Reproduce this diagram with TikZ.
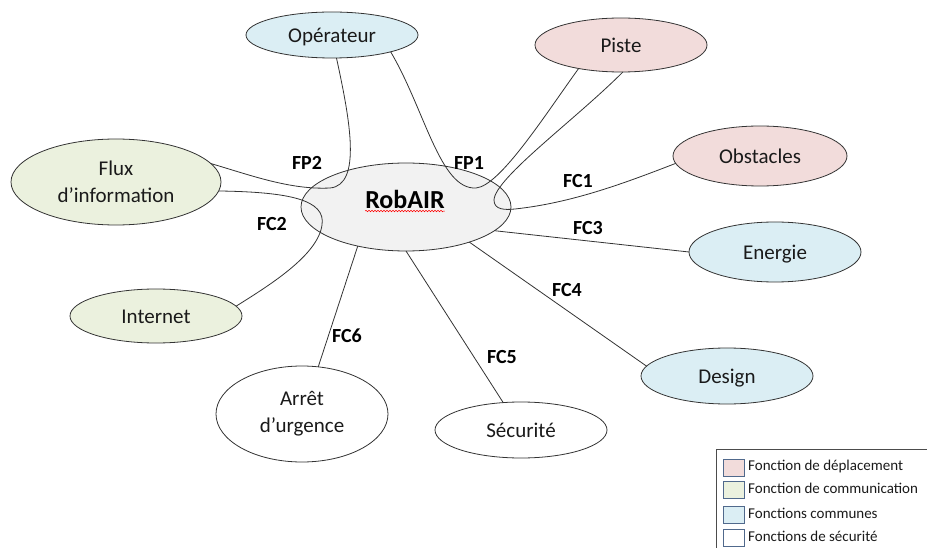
\documentclass[tikz,border=0pt]{standalone}
\usepackage{fontspec}
\setmainfont{Carlito}
\usetikzlibrary{shapes.geometric,decorations.pathmorphing}
\definecolor{pinkf}{HTML}{F2DCDB}
\definecolor{greenf}{HTML}{EBF1DE}
\definecolor{bluef}{HTML}{DBEEF4}
\definecolor{greyf}{HTML}{F2F2F2}
\definecolor{swb}{RGB}{80,105,140}
\definecolor{txt}{HTML}{1A1A1A}
\begin{document}
\begin{tikzpicture}[x=1pt,y=-1pt,
  ell/.style={ellipse,draw=black!80,line width=0.8pt,inner sep=0pt,outer sep=0pt,
    font=\fontsize{21}{27}\selectfont,text=txt,align=center},
  oneline/.style={text height=19pt,text depth=4pt},
  lab/.style={font=\bfseries\fontsize{20}{22}\selectfont,inner sep=0pt,text=black},
  conn/.style={draw=black!80,line width=0.8pt},
  sw/.style={draw=swb,line width=0.8pt,minimum width=21pt,minimum height=17pt,inner sep=0pt},
  legt/.style={font=\fontsize{15}{17}\selectfont,anchor=west,inner sep=0pt,text=txt}]
\useasboundingbox (0,0) rectangle (927,548);

% nodes
\node[ell,oneline,fill=bluef,minimum width=172pt,minimum height=46pt] (op) at (332,35) {Opérateur};
\node[ell,oneline,fill=pinkf,minimum width=172pt,minimum height=54pt] (pi) at (621,45) {Piste};
\node[ell,oneline,fill=pinkf,minimum width=174pt,minimum height=60pt] (ob) at (760,156) {Obstacles};
\node[ell,oneline,fill=bluef,minimum width=172pt,minimum height=60pt] (en) at (775,252) {Energie};
\node[ell,oneline,fill=bluef,minimum width=172pt,minimum height=56pt] (des) at (727,376) {Design};
\node[ell,oneline,fill=white,minimum width=172pt,minimum height=56pt] (sec) at (521,430) {Sécurité};
\node[ell,fill=white,minimum width=172pt,minimum height=96pt] (arr) at (302,414) {Arrêt\\d’urgence};
\node[ell,oneline,fill=greenf,minimum width=172pt,minimum height=54pt] (inet) at (156,316) {Internet};
\node[ell,fill=greenf,minimum width=210pt,minimum height=86pt] (flux) at (116,182) {Flux\\d’information};
\node[ell,fill=greyf,minimum width=210pt,minimum height=88pt] (rob) at (406,207) {};
\node[font=\bfseries\fontsize{26}{28}\selectfont,inner sep=0pt,text=black] (robt) at (405,199) {RobAIR};
\draw[red,line width=0.5pt,decorate,decoration={snake,amplitude=0.7pt,segment length=3pt}]
  ([yshift=-3pt]robt.base west) -- ([yshift=-3pt]robt.base east);

% connectors
\draw[conn] (op.281) .. controls (350,120) and (362,185) .. (330,188)
  .. controls (290,190) and (250,175) .. (flux.11);
\draw[conn] (op.344) .. controls (425,110) and (440,190) .. (476,188)
  .. controls (500,186) and (545,115) .. (pi.209);
\draw[conn] (pi.274) .. controls (575,120) and (495,178) .. (494,200)
  .. controls (494,210) and (505,210) .. (515,209)
  .. controls (570,203) and (620,185) .. (ob.185);
\draw[conn] (flux.355) .. controls (290,192) and (326,200) .. (322,225)
  .. controls (318,255) and (270,285) .. (inet.7.5);
\draw[conn] (rob.345) -- (en.180);
\draw[conn] (rob.331) -- (des.173);
\draw[conn] (rob.270) -- (sec.123);
\draw[conn] (rob.219) -- (arr.71);

% labels
\node[lab] (lfp2) at (307,163) {FP2};
\node[lab] (lfp1) at (469,163) {FP1};
\node[lab] (lfc1) at (578,181) {FC1};
\node[lab] (lfc2) at (272,224) {FC2};
\node[lab] (lfc3) at (588,228) {FC3};
\node[lab] (lfc4) at (567,290) {FC4};
\node[lab] (lfc6) at (347,336) {FC6};
\node[lab] (lfc5) at (502,357) {FC5};

% legend
\coordinate (lgtr) at (930,449);
\coordinate (lgtl) at (716,449);
\coordinate (lgbl) at (716,550);
\draw[black!70,line width=0.8pt] (lgtr) -- (lgtl) -- (lgbl);
\node[sw,fill=pinkf] (s1) at (733.5,467.5) {};
\node[sw,fill=greenf] (s2) at (733.5,489.5) {};
\node[sw,fill=bluef] (s3) at (733.5,514.5) {};
\node[sw,fill=white] (s4) at (733.5,537.5) {};
\node[legt] (l1) at (748,466) {Fonction de déplacement};
\node[legt] (l2) at (748,488) {Fonction de communication};
\node[legt] (l3) at (748,513) {Fonctions communes};
\node[legt] (l4) at (748,536) {Fonctions de sécurité};
\end{tikzpicture}
\end{document}
